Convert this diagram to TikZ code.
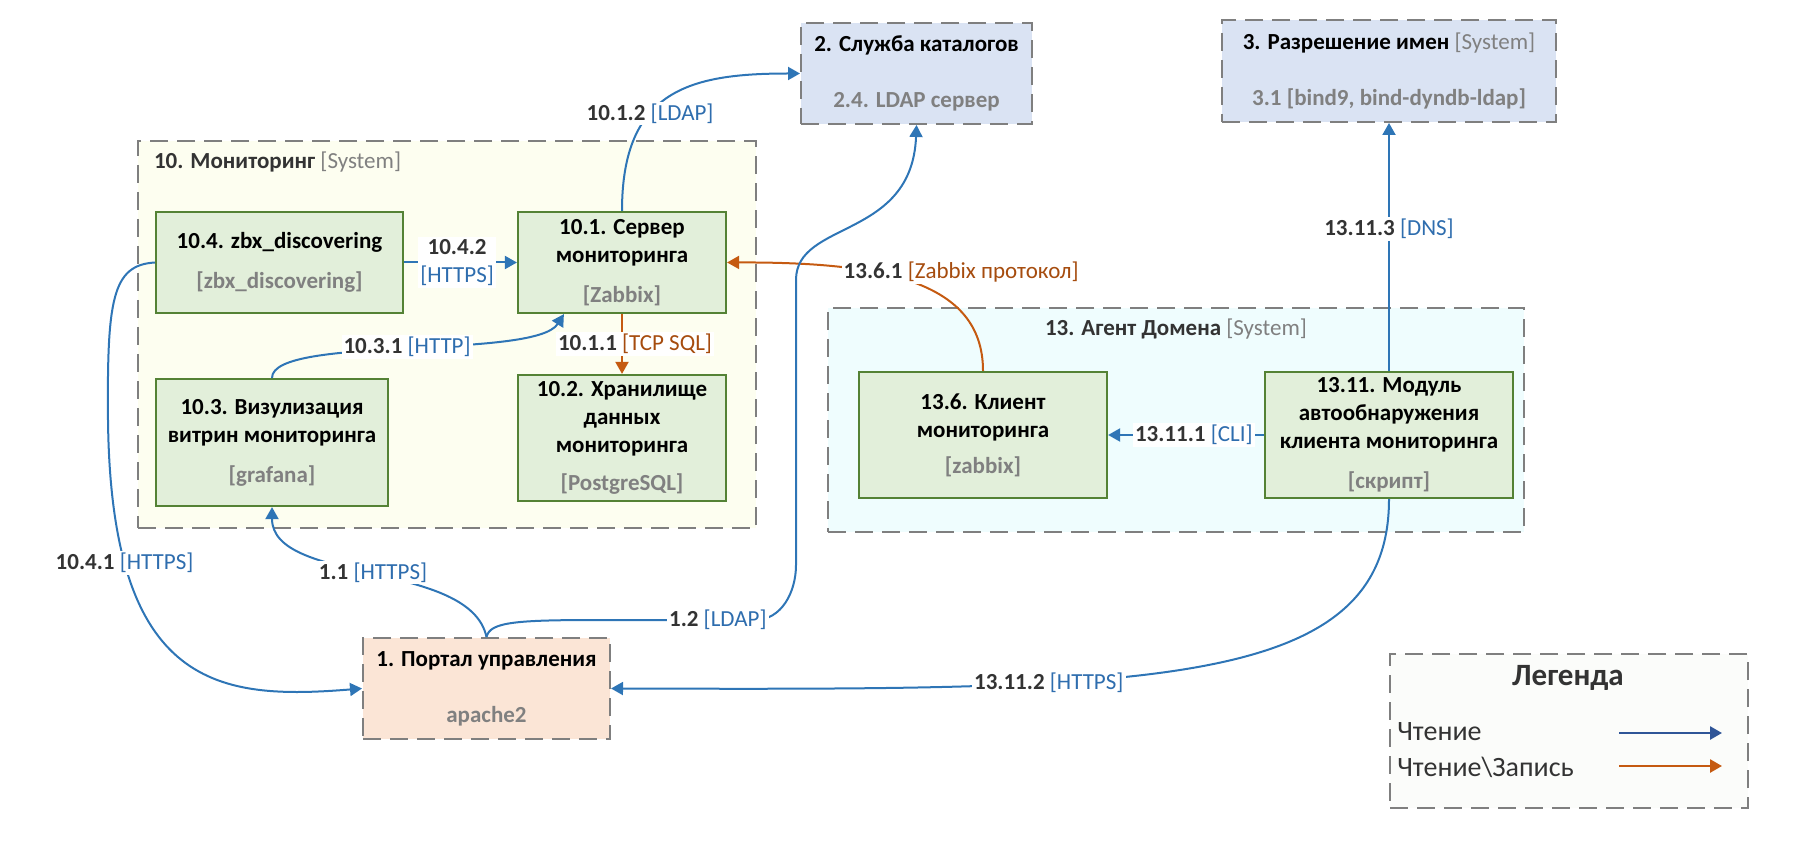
\documentclass[tikz,border=0pt]{standalone}
\usepackage{fontspec}
\setmainfont{Carlito}
\usetikzlibrary{arrows.meta, positioning}

\definecolor{rdblue}{HTML}{2E75B6}
\definecolor{rdtext}{HTML}{2E6DAE}
\definecolor{rworange}{HTML}{C55A11}
\definecolor{rwtext}{HTML}{A64C0E}
\definecolor{legblue}{HTML}{2F5597}
\definecolor{boxgreen}{HTML}{E2EFDA}
\definecolor{linegreen}{HTML}{548235}
\definecolor{dashgray}{HTML}{7F7F7F}
\definecolor{txtgray}{HTML}{808080}
\definecolor{txtdark}{HTML}{333333}
\definecolor{sysblue}{HTML}{DAE3F3}
\definecolor{portalpeach}{HTML}{FBE5D6}
\definecolor{monyellow}{HTML}{FDFEF0}
\definecolor{agentcyan}{HTML}{EFFDFE}
\definecolor{legfill}{HTML}{FBFCFA}

\newcommand{\subtxt}[1]{{\color{txtgray}#1}}
\newcommand{\rdlbl}[2]{\textbf{#1} {\color{rdtext}[#2]}}
\newcommand{\rwlbl}[2]{\textbf{#1} {\color{rwtext}[#2]}}

\tikzset{
  base/.style={font=\fontsize{11.5}{14}\selectfont},
  comp/.style={base, font=\fontsize{11.5}{14}\selectfont\bfseries, draw=linegreen,
    fill=boxgreen, line width=1.1pt, align=center, inner sep=0pt},
  ext/.style={comp, draw=dashgray, line width=1pt, dash pattern=on 9pt off 4.5pt},
  cont/.style={draw=dashgray, line width=1pt, dash pattern=on 9pt off 4.5pt,
    inner sep=0pt},
  ctitle/.style={base, font=\fontsize{11.5}{14}\selectfont\bfseries, text=txtdark},
  lbl/.style={base, fill=white, inner sep=1pt, text=txtdark, align=center},
  rd/.style={draw=rdblue, line width=1pt, ->},
  rw/.style={draw=rworange, line width=1pt, ->},
  >={Triangle[length=6pt,width=6.5pt]},
}

\begin{document}
\begin{tikzpicture}[x=0.5pt,y=-0.5pt]
  \useasboundingbox (0,0) rectangle (1808,855);

  % containers
  \node[cont, fill=monyellow, minimum width=309pt, minimum height=193.5pt] (mon) at (447,334.5) {};
  \node[ctitle, anchor=west] (monT) at (147,162) {10. Мониторинг \subtxt{\mdseries[System]}};
  \node[cont, fill=agentcyan, minimum width=348pt, minimum height=112pt] (agent) at (1176,420) {};
  \node[ctitle] (agentT) at (1176,329) {13. Агент Домена \subtxt{\mdseries[System]}};

  % external systems
  \node[ext, fill=sysblue, minimum width=115.5pt, minimum height=50.5pt] (sys2) at (916.5,73.5)
    {2. Служба каталогов\\[14pt]\subtxt{2.4. LDAP сервер}};
  \node[ext, fill=sysblue, minimum width=167pt, minimum height=51pt] (sys3) at (1389,71)
    {3. Разрешение имен \subtxt{\mdseries[System]}\\[14pt]\subtxt{3.1 [bind9, bind-dyndb-ldap]}};
  \node[ext, fill=portalpeach, minimum width=123.5pt, minimum height=50.5pt] (n1) at (486.5,688.5)
    {1. Портал управления\\[14pt]\subtxt{apache2}};

  % components
  \node[comp, minimum width=123.5pt, minimum height=50.5pt] (n104) at (279.5,262.5)
    {10.4. zbx\_discovering\\[6pt]\subtxt{[zbx\_discovering]}};
  \node[comp, minimum width=104pt, minimum height=50.5pt] (n101) at (622,262.5)
    {10.1. Сервер\\мониторинга\\[6pt]\subtxt{[Zabbix]}};
  \node[comp, minimum width=116pt, minimum height=63.5pt] (n103) at (272,442.5)
    {10.3. Визулизация\\витрин мониторинга\\[6pt]\subtxt{[grafana]}};
  \node[comp, minimum width=104pt, minimum height=63pt] (n102) at (622,438)
    {10.2. Хранилище\\данных\\мониторинга\\[5pt]\subtxt{[PostgreSQL]}};
  \node[comp, minimum width=124pt, minimum height=63pt] (n136) at (983,435)
    {13.6. Клиент\\мониторинга\\[4pt]\subtxt{[zabbix]}};
  \node[comp, minimum width=124pt, minimum height=63pt] (n1311) at (1389,435)
    {13.11. Модуль\\автообнаружения\\клиента мониторинга\\[6pt]\subtxt{[скрипт]}};

  % connectors
  \draw[rd] (n104.east) -- (n101.west) node[lbl, pos=0.47] {\textbf{10.4.2}\\{\color{rdtext}[HTTPS]}};
  \draw[rw] (n101.south) -- (n102.north) node[lbl, pos=0.5, xshift=6.5pt] {\rwlbl{10.1.1}{TCP SQL}};
  \draw[rd] (n101.north) .. controls (622,90) and (690,73.5) .. (sys2.west)
    node[lbl, pos=0.38] {\rdlbl{10.1.2}{LDAP}};
  \draw[rd] (n103.north) .. controls (272,335) and (535,360) .. ([xshift=23.5pt]n101.south west)
    node[lbl, pos=0.5] {\rdlbl{10.3.1}{HTTP}};
  \draw[rw] (n136.north) .. controls (983,280) and (880,262) .. (n101.east)
    node[lbl, pos=0.6, xshift=39pt, yshift=1pt] {\rwlbl{13.6.1}{Zabbix протокол}};
  \draw[rd] (n1311.west) -- (n136.east) node[lbl, pos=0.45] {\rdlbl{13.11.1}{CLI}};
  \draw[rd] (n1311.north) -- (sys3.south) node[lbl, pos=0.572] {\rdlbl{13.11.3}{DNS}};
  \draw[rd] (n1311.south) .. controls (1389,690) and (1150,690) .. (n1.east)
    node[lbl, pos=0.67] {\rdlbl{13.11.2}{HTTPS}};
  \draw[rd] (n1.north) .. controls (470,560) and (272,585) .. (n103.south)
    node[lbl, pos=0.5] {\rdlbl{1.1}{HTTPS}};
  \draw[rd] (n1.north) .. controls (490,622) and (515,620) .. (600,620) -- (755,620)
    node[lbl, pos=0.76] {\rdlbl{1.2}{LDAP}}
    to[out=0,in=-90] (796,565) -- (796,280) .. controls (796,220) and (912,240) .. (sys2.south);
  \draw[rd] (n104.west) .. controls (112,265) and (107,300) .. (108,420)
    .. controls (111,690) and (220,700) .. (n1.west)
    node[lbl, pos=0.22] {\rdlbl{10.4.1}{HTTPS}};

  % legend
  \node[cont, fill=legfill, minimum width=179pt, minimum height=77pt] (legend) at (1569,731) {};
  \node[font=\fontsize{15.5}{18}\selectfont\bfseries, text=txtdark] (legT) at (1568,678) {Легенда};
  \node[font=\fontsize{14}{17}\selectfont, text=txtdark, anchor=west, inner sep=0pt] (legR) at (1397,732) {Чтение};
  \node[font=\fontsize{14}{17}\selectfont, text=txtdark, anchor=west, inner sep=0pt] (legRW) at (1397,767) {Чтение\textbackslash Запись};
  \coordinate (legRa) at (1619,733);
  \coordinate (legRb) at (1722,733);
  \coordinate (legRWa) at (1619,766);
  \coordinate (legRWb) at (1722,766);
  \draw[->, draw=legblue, line width=1.3pt] (legRa) -- (legRb);
  \draw[->, draw=rworange, line width=1.3pt] (legRWa) -- (legRWb);
\end{tikzpicture}
\end{document}
